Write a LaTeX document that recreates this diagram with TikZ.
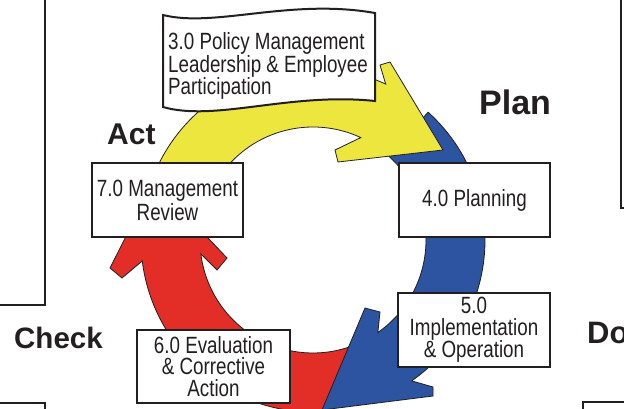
\documentclass[tikz,border=0pt]{standalone}
\usepackage{fontspec}
\setmainfont{Liberation Sans}
\newfontfamily\boxfont{Liberation Sans}[FakeStretch=0.8]
\usetikzlibrary{calc}
\definecolor{ink}{RGB}{35,31,32}
\definecolor{pdcayellow}{RGB}{236,230,62}
\definecolor{pdcablue}{RGB}{44,84,160}
\definecolor{pdcared}{RGB}{226,46,38}
\begin{document}
\begin{tikzpicture}[x=1pt,y=-1pt,
  boxstyle/.style={draw=ink, line width=2pt, fill=white, inner sep=0pt, align=center, text=ink,
    font=\boxfont\fontsize{23.5}{21.5}\selectfont},
  phase/.style={anchor=base west, inner sep=0pt, text=ink},
  arrowshape/.style={draw=ink, line width=0.8pt, line join=miter},
  frameline/.style={draw=ink, line width=2pt}]
\fill[white] (0,0) rectangle (624,409);
\useasboundingbox (0,0) rectangle (624,409);
\coordinate (C) at (313,240);
% frame lines of neighbouring panels
\draw[frameline] (45,-3) -- (45,305) -- (-3,305);
\draw[frameline] (-3,403) -- (45,403) -- (45,412);
\draw[frameline] (621,-3) -- (621,208) -- (627,208);
\draw[frameline] (583,412) -- (583,402) -- (627,402);
% red arrow (Check -> Act)
\draw[arrowshape, fill=pdcared] ($(C)+(87:172)$) arc[start angle=87, end angle=173, radius=172]
  -- (122,278) -- (110,268) -- (154,181) -- (227,258) -- (217,270)
  -- ($(C)+(173:113)$) arc[start angle=173, end angle=71, radius=113] -- cycle;
% blue arrow (Plan -> Do)
\draw[arrowshape, fill=pdcablue] ($(C)+(312:172)$) arc[start angle=312, end angle=415, radius=172]
  -- (433,387) -- (433,396) -- (322,410) -- (365,308) -- (380,312)
  -- ($(C)+(415:113)$) arc[start angle=415, end angle=312, radius=113] -- cycle;
% yellow arrow (Act -> Plan)
\draw[arrowshape, fill=pdcayellow] ($(C)+(190:172)$) arc[start angle=190, end angle=295, radius=172]
  -- (380,65) -- (390,62) -- (443,150) -- (338,162) -- (335,150)
  -- ($(C)+(295:113)$) arc[start angle=295, end angle=190, radius=113] -- cycle;
% banner
\draw[line width=2pt, draw=ink, fill=white] (163,15) .. controls (215,28) and (290,-2) .. (375,13)
  -- (375,101) .. controls (290,92) and (215,122) .. (163,107) -- cycle;
\node[anchor=west, inner sep=0pt, align=left, text=ink, font=\boxfont\fontsize{23.5}{22.7}\selectfont]
  (policy) at (168,66) {3.0 Policy Management\\Leadership \& Employee\\Participation};
% boxes
\node[boxstyle, minimum width=151pt, minimum height=74pt, font=\boxfont\fontsize{23.5}{24}\selectfont]
  (review) at (167.5,200) {7.0 Management\\Review};
\node[boxstyle, minimum width=151pt, minimum height=74pt] (planning) at (474.5,200) {4.0 Planning};
\node[boxstyle, minimum width=152pt, minimum height=74pt] (implementation) at (474,330) {5.0\\Implementation\\\& Operation};
\node[boxstyle, minimum width=153pt, minimum height=73pt] (evaluation) at (213.5,366.5) {6.0 Evaluation\\\& Corrective\\Action};
% phase labels
\node[phase, font=\bfseries\fontsize{30}{30}\selectfont] (act) at (107,145) {Act};
\node[phase, font=\bfseries\fontsize{34}{34}\selectfont] (plan) at (479,115) {Plan};
\node[phase, font=\bfseries\fontsize{29.5}{30}\selectfont] (check) at (14,348) {Check};
\node[phase, font=\bfseries\fontsize{31}{31}\selectfont] (do) at (587,343) {Do};
\end{tikzpicture}
\end{document}
